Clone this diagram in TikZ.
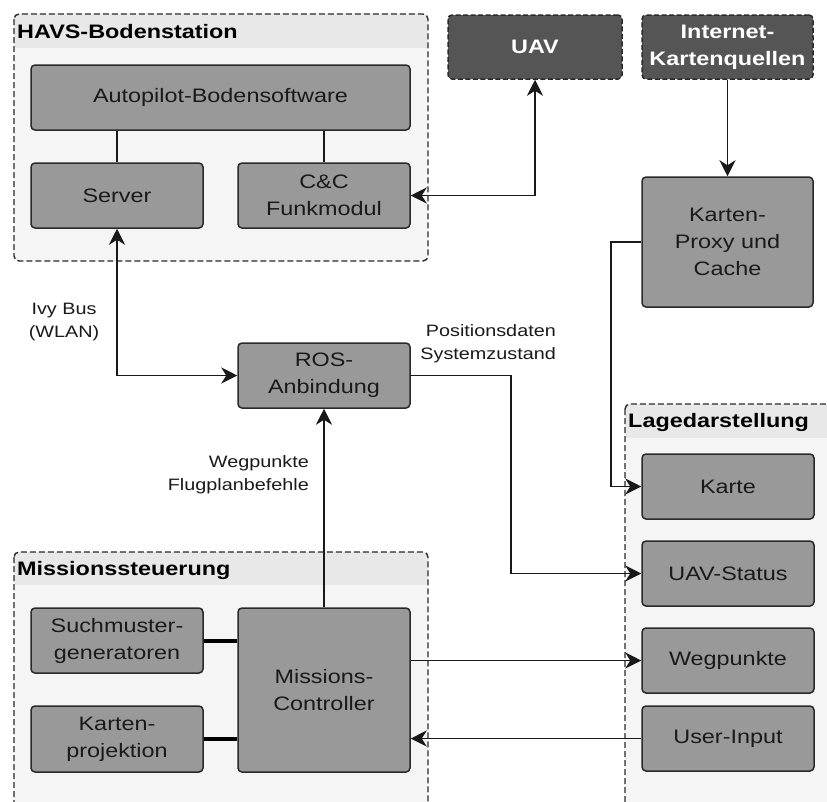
\documentclass[tikz,border=0pt]{standalone}
\usepackage{fontspec}
\setmainfont{Liberation Sans}[FakeStretch=1.2]
\usetikzlibrary{arrows.meta}

\definecolor{boxfill}{HTML}{999999}
\definecolor{boxline}{HTML}{2A2A2A}
\definecolor{grpfill}{HTML}{F5F5F5}
\definecolor{grpband}{HTML}{E8E8E8}
\definecolor{extfill}{HTML}{555555}
\definecolor{txt}{HTML}{1A1A1A}

\tikzset{
  box/.style={draw=boxline, line width=1.5pt, fill=boxfill, rounded corners=4pt,
    align=center, inner sep=0pt, text=txt,
    font=\fontsize{19.5}{27}\selectfont},
  extbox/.style={box, fill=extfill, dash pattern=on 5pt off 2.5pt, text=white,
    font=\fontsize{19.5}{27}\selectfont\bfseries},
  grpborder/.style={draw=boxline, line width=1.4pt, dash pattern=on 6pt off 3pt,
    rounded corners=5pt},
  grptitle/.style={anchor=west, inner sep=0pt, text=black,
    font=\fontsize{19.5}{24}\selectfont\bfseries},
  lbl/.style={inner sep=0pt, text=txt, font=\fontsize{16.5}{23}\selectfont},
  conn/.style={draw=black!90, line width=1.6pt},
  tip/.style={-{Stealth[length=16pt,width=16pt,inset=5pt]}},
  tips/.style={{Stealth[length=16pt,width=16pt,inset=5pt]}-{Stealth[length=16pt,width=16pt,inset=5pt]}},
  bond/.style={draw=black, line width=4pt},
}

% a dashed group frame with a shaded title band
\newcommand{\groupframe}[5]{%
  \begin{scope}
    \clip[rounded corners=5pt] (#1,#2) rectangle (#3,#4);
    \fill[grpfill] (#1,#2) rectangle (#3,#4);
    \fill[grpband] (#1,#2) rectangle (#3,#5);
  \end{scope}
  \draw[grpborder] (#1,#2) rectangle (#3,#4);
}

\begin{document}
\begin{tikzpicture}[x=1pt,y=-1pt]
\clip (0,0) rectangle (827,801);
\fill[white] (0,0) rectangle (827,801);

% groups
\groupframe{14}{14}{428}{261}{48}
\groupframe{14}{552}{428}{830}{585}
\groupframe{625}{404}{850}{830}{438}
\node[grptitle] (tHavs) at (17,32) {HAVS-Bodenstation};
\node[grptitle] (tMiss) at (17,570) {Missionssteuerung};
\node[grptitle] (tLage) at (628,422) {Lagedarstellung};

% ground station
\node[box, minimum width=379pt, minimum height=65pt] (auto) at (220.5,97.5) {Autopilot-Bodensoftware};
\node[box, minimum width=172pt, minimum height=65pt] (server) at (117,195.5) {Server};
\node[box, minimum width=172pt, minimum height=65pt] (cc) at (324,195.5) {C\&C\\Funkmodul};

% external
\node[extbox, minimum width=174pt, minimum height=64pt] (uav) at (535,47) {UAV};
\node[extbox, minimum width=171pt, minimum height=64pt] (inet) at (727.5,47) {Internet-\\Kartenquellen};
\node[box, minimum width=171pt, minimum height=130pt] (proxy) at (727.5,242) {Karten-\\Proxy und\\Cache};

% middleware
\node[box, minimum width=172pt, minimum height=65pt] (ros) at (324,375.5) {ROS-\\Anbindung};

% situation display
\node[box, minimum width=172pt, minimum height=65pt] (karte) at (728,486.5) {Karte};
\node[box, minimum width=172pt, minimum height=65pt] (status) at (728,573.5) {UAV-Status};
\node[box, minimum width=172pt, minimum height=65pt] (wegp) at (728,660.5) {Wegpunkte};
\node[box, minimum width=172pt, minimum height=65pt] (user) at (728,738.5) {User-Input};

% mission control
\node[box, minimum width=172pt, minimum height=65pt] (such) at (117,640.5) {Suchmuster-\\generatoren};
\node[box, minimum width=172pt, minimum height=66pt] (kproj) at (117,739) {Karten-\\projektion};
\node[box, minimum width=172pt, minimum height=164pt] (mc) at (324,690) {Missions-\\Controller};

% internal links
\draw[conn] (server.north) -- (server.north |- auto.south);
\draw[conn] (cc.north) -- (cc.north |- auto.south);
\draw[bond] (such.east) -- (such.east -| mc.west);
\draw[bond] (kproj.east) -- (kproj.east -| mc.west);

% data flows
\draw[conn, tips] (cc.east) -| (uav.south);
\draw[conn, tip] (inet.south) -- (proxy.north);
\draw[conn, tip] (proxy.west) -- ++(-30,0) |- (karte.west);
\draw[conn, tips] (server.south) |- (ros.west);
\draw[conn, tip] (ros.east) -- ++(100,0) |- (status.west);
\draw[conn, tip] (mc.north) -- (ros.south);
\draw[conn, tip] (wegp.west -| mc.east) -- (wegp.west);
\draw[conn, tip] (user.west) -- (user.west -| mc.east);

% labels
\node[lbl, align=center] (lIvy) at (64,322) {Ivy Bus\\(WLAN)};
\node[lbl, align=right, anchor=east] (lPos) at (556,344) {Positionsdaten\\Systemzustand};
\node[lbl, align=right, anchor=east] (lWeg) at (309,475) {Wegpunkte\\Flugplanbefehle};
\end{tikzpicture}
\end{document}
